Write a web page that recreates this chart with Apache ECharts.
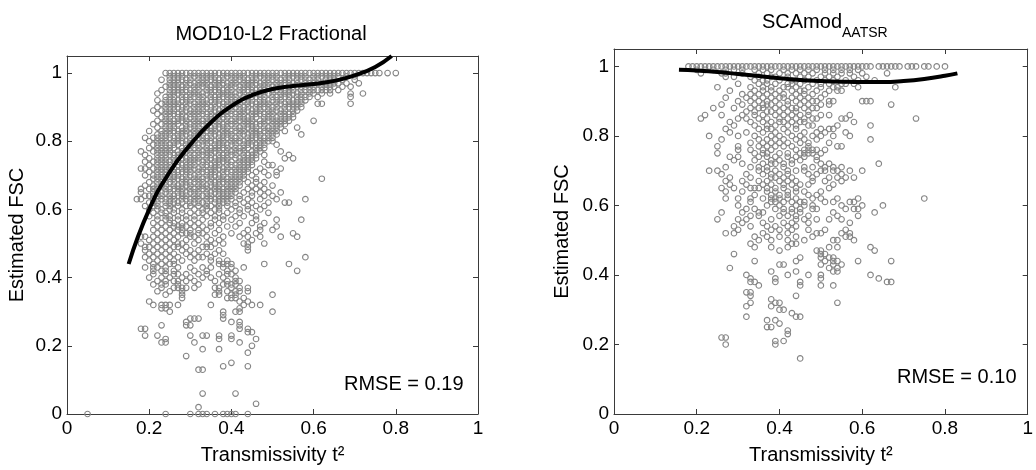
<!DOCTYPE html>
<html><head><meta charset="utf-8">
<script src="https://cdn.jsdelivr.net/npm/echarts@6/dist/echarts.min.js"></script>
<style>html,body{margin:0;padding:0;background:#fff}#c{width:1036px;height:470px}</style>
</head><body><div id="c"></div>
<script>
// tick labels
const xTicks = [0, 0.2, 0.4, 0.6, 0.8, 1];
const yTicks = [0, 0.2, 0.4, 0.6, 0.8, 1];
const titleLeft = 'MOD10-L2 Fractional';
const titleRightMain = 'SCAmod';
const titleRightSub = 'AATSR';
const xName = 'Transmissivity t\u00B2';
const yName = 'Estimated FSC';
const rmseLeft = 'RMSE = 0.19';
const rmseRight = 'RMSE = 0.10';

// MOD10-L2 scatter: "y|x x x" in hundredths
const modRows = [
"100|24 25 26 27 28 29 30 31 32 33 34 35 36 37 38 39 40 41 42 43 44 45 46 47 48 49 50 51 52 53 54 55 56 57 58 59 60 61 62 63 64 65 66 67 68 69 70 71 72 73 74 75 76 78 80",
"99|25 26 27 28 30 31 32 33 34 35 36 38 39 40 41 42 43 45 46 47 48 49 50 51 53 54 55 56 57 58 60 61 62 63 64 65 66 68 70",
"98|23 25 26 27 28 29 30 32 33 34 35 36 37 38 40 41 42 43 44 45 46 48 49 50 51 52 53 54 56 57 58 59 60 61 63 64 65 67 70",
"97|25 26 27 29 30 31 32 33 34 36 37 38 39 40 41 43 44 45 46 47 48 49 51 52 53 54 55 56 58 59 60 61 62 63 64 65 66 68 71",
"96|24 25 26 27 28 29 31 32 33 34 35 36 37 39 40 41 42 43 44 45 47 48 49 50 51 52 54 55 56 57 58 59 60 62 63 64 65 67 69",
"95|23 25 26 27 28 29 30 31 32 34 35 36 37 38 39 40 42 43 44 45 46 47 48 50 51 52 53 54 55 57 58 59 60 61 62 63 64 66",
"94|22 25 26 27 28 30 31 32 33 34 35 37 38 39 40 41 42 43 45 46 47 48 49 50 52 53 54 55 56 57 59 60 62 64 69 72",
"93|24 25 26 28 29 30 31 32 33 35 36 37 38 39 40 41 43 44 45 46 47 48 50 51 52 53 54 56 57 58 59 61 69",
"92|22 24 25 26 27 28 29 30 32 33 34 35 36 37 39 40 41 42 43 44 45 47 48 49 50 51 52 54 55 56 57 58",
"91|23 24 25 26 27 29 30 31 32 33 34 36 37 38 39 40 41 42 44 45 46 47 48 49 51 52 53 54 55 56 57 61 62 69",
"90|22 24 25 26 27 28 29 31 32 33 34 35 36 38 39 40 41 42 43 44 46 47 48 49 50 51 53 54 55 56 57",
"89|21 23 24 25 26 28 29 30 31 32 33 35 36 37 38 39 40 42 43 44 45 46 47 49 50 51 52 53 55 56",
"88|22 24 25 26 27 28 30 31 32 33 34 35 37 38 39 40 41 42 43 45 46 47 48 49 50 52 53 54 55",
"87|23 24 25 27 28 29 30 31 32 34 35 36 37 38 39 41 42 43 44 45 46 48 49 50 51 52 53 54 55",
"86|22 24 25 26 27 28 29 31 32 33 34 35 36 37 39 40 41 42 43 44 45 47 48 49 50 51 52 53 54 60",
"85|21 23 24 25 26 27 29 30 31 32 33 34 36 37 38 39 40 41 43 44 45 46 47 48 50 51 52 53",
"84|22 24 25 26 28 29 30 31 32 34 35 36 37 38 39 41 42 43 44 45 46 48 49 50 51 52 56",
"83|20 23 24 25 26 27 28 29 31 32 33 34 35 36 38 39 40 41 42 43 45 46 47 48 49 50 51 53",
"82|22 23 24 25 27 28 29 30 31 32 33 35 36 37 38 39 40 42 43 44 45 46 47 49 50 51 57",
"81|19 21 22 23 24 25 26 27 28 30 31 32 33 34 35 37 38 39 40 41 42 44 45 46 47 48 49 50",
"80|20 22 23 24 26 27 28 29 30 31 33 34 35 36 37 38 40 41 42 43 44 45 47 48 49 50",
"79|21 22 23 24 25 26 27 29 30 31 32 33 34 36 37 38 39 40 41 43 44 45 46 47 48 51",
"78|20 22 23 24 25 26 28 29 30 31 32 34 35 36 37 38 39 41 42 43 44 46 47 48",
"77|18 21 22 23 24 25 27 28 29 30 32 33 34 35 36 37 39 40 41 42 43 45 46 47 52",
"76|19 22 23 24 25 26 27 28 30 31 32 33 34 35 37 38 39 40 41 43 44 45 46 48 54",
"75|20 22 23 24 26 27 28 29 30 31 32 34 35 36 37 38 39 41 42 43 44 45 46 53 55",
"74|19 21 22 23 24 25 26 27 29 30 31 32 33 34 36 37 38 39 40 42 43 44 45 48",
"73|20 22 23 24 25 27 28 29 30 31 33 34 35 36 37 39 40 41 42 43 44 45 49 50",
"72|18 19 21 22 23 24 25 26 28 29 30 31 32 33 35 36 37 38 39 41 42 43 44 47 52",
"71|20 22 23 24 26 27 28 29 30 32 33 34 35 36 38 39 40 41 42 43 44 46 48 51",
"70|19 21 22 23 24 25 26 27 29 30 31 32 34 35 36 37 38 40 41 42 43 45 49 51",
"69|21 22 23 25 26 27 28 29 31 32 33 34 35 37 38 39 40 41 42 43 46 62",
"68|20 22 23 24 25 26 28 29 30 31 32 33 35 36 37 38 39 40 41 42 44 46 48",
"67|19 21 22 23 24 26 27 28 29 30 32 33 34 35 36 37 39 40 41 42 45 47 50",
"66|18 20 21 22 24 25 26 27 28 30 31 32 33 34 36 37 38 39 40 41 44 46 48",
"65|18 21 22 23 24 25 27 28 29 30 31 32 34 35 36 37 38 39 40 41 43 45 47 49 52",
"64|19 20 21 22 23 25 26 27 28 29 31 32 33 34 35 37 38 39 40 42 45 48 50",
"63|17 18 21 22 23 24 25 26 28 29 30 31 32 34 35 36 37 38 39 40 42 44 47 51 58",
"62|20 21 22 24 25 26 27 28 30 31 32 33 34 36 37 38 39 41 43 45 49 53 54",
"61|19 21 22 24 25 27 29 30 32 34 35 37 39 41 44 46 48",
"60|20 22 23 25 26 28 31 33 34 36 37 40 42 44 47",
"59|21 23 24 26 28 30 32 33 35 37 39 42 45 49",
"58|20 22 24 25 27 29 31 34 36 38 41 43 46",
"57|22 24 25 27 29 31 33 36 38 40 46 51 57",
"56|21 23 25 26 28 30 32 35 37 42 45 48",
"55|22 24 26 27 28 29 31 33 35 39 41 47 51",
"54|21 23 25 27 28 30 32 34 37 44 47 50",
"53|22 24 26 28 29 30 32 33 36 40 43 46 55",
"52|18 19 21 23 25 27 30 31 34 38 42 44 47 52 56",
"51|20 22 24 26 29 32 35 37 45",
"50|18 21 23 25 27 28 31 34 36 38 43 44 48",
"49|19 20 22 24 26 27 29 33 34 35 44",
"48|19 21 23 25 28 30 32 37 44",
"47|20 22 24 26 29 31 34 36 38",
"46|19 21 23 25 27 30 32 33 35 58",
"45|20 22 24 26 28 31 35 37 39",
"44|21 23 25 26 37 38 39 40 48 54",
"43|19 21 22 24 27 30 33 35 38 40 43",
"42|21 23 24 26 31 34 39 41 56",
"41|21 24 26 27 29 32 34 37 39 40",
"40|20 23 25 28 30 33 35 38 41",
"39|22 24 26 27 29 31 36 39 41 42",
"38|21 23 24 27 32 38 39 40 41",
"37|23 26 27 28 29 31 36 37 40 42 44",
"36|22 25 28 37 39 41 42 44",
"35|24 28 36 37 40 41 50",
"34|28 39 40 41 43",
"33|20 42 44",
"32|21 23 24 25 27 35 43 45 47",
"31|23 24 42",
"30|25 38 41 42 50",
"29|38",
"28|30 31 32 38",
"27|29 40 42",
"26|23 29 30 42",
"25|18 19 42 44",
"24|44 45",
"23|19 22 30 33 34 37 40",
"22|24 37 40 46",
"21|23 24 31 42",
"20|45",
"19|33 37",
"18|44",
"17|29",
"15|40",
"14|38 44",
"13|32 33",
"6|33 41",
"3|46",
"2|32",
"0|5 24 30 32 33 34 36 38 39 40 41 44"
];

// SCAmod AATSR scatter: "y|x x x" in hundredths
const scaRows = [
"100|18 19 20 21 22 23 24 25 26 27 28 29 30 31 32 33 34 35 36 37 38 39 40 41 42 43 44 45 46 47 48 49 50 51 52 53 54 55 56 57 58 59 60 61 62 64 65 66 67 68 69 71 72 73 75 76 78 80",
"99|20 22 24 27 29 31 34 36 38 41 43 45 47 49 51 53 55 57 59",
"98|21 26 27 31 35 37 40 42 44 46 48 51 53 55 57 60 66",
"97|27 29 33 35 38 39 42 45 47 50 52 54 58 61",
"96|34 36 37 40 43 44 46 49 51 53 56 59 63",
"95|30 35 37 39 42 43 45 48 50 52 55 56 58",
"94|25 33 36 38 41 42 44 47 50 53 54 59 68",
"93|28 34 36 38 40 43 45 46 49 52 54 55",
"92|31 33 35 37 39 41 44 46 48 51",
"91|27 32 34 36 38 40 41 43 45 47 50",
"90|30 33 35 37 39 42 44 46 48 49 52 53 60 61 62",
"89|26 31 34 36 37 38 40 42 45 47 50 52 67",
"88|24 29 33 35 36 39 41 43 44 46 48 49",
"87|32 34 37 38 40 42 44 47",
"86|22 26 31 34 36 39 41 43 45 47 50 52 57",
"85|21 30 32 35 37 40 42 44 46 48 49 55 56 73",
"84|28 33 36 38 40 41 43 45 46 58",
"83|29 34 37 39 42 44 47 48 54 62",
"82|27 35 37 38 41 44 50 52 53",
"81|28 32 36 39 42 46 49 51 56",
"80|23 30 34 38 40 43 45 48 50 53 57",
"79|26 35 37 39 41 44 46 49 62",
"78|33 36 38 40 42 45 47 52",
"77|25 30 35 37 39 41 43 47 54 55",
"76|30 33 36 38 44 46 47 48 49 51",
"75|25 34 36 37 40 42 45 46 47 48 50",
"74|28 30 35 37 39 42 44 46 49",
"73|29 34 38 40 43 45 49",
"72|31 36 38 39 41 43 50 52 64",
"71|27 33 35 37 41 46 48 51 53 55",
"70|23 25 35 37 39 42 44 46 50 51 53 54 57 60",
"69|26 32 36 38 40 42 47 49 55",
"68|28 33 38 39 41 43 48 52 54 56 58",
"67|27 31 35 37 40 42 44 48 51 55",
"66|28 32 36 38 41 43 45 47 53",
"65|26 29 33 34 35 37 39 41 44 52",
"64|27 31 37 39 42 44 46 50",
"63|34 38 40 42 47 49",
"62|27 30 33 36 38 39 40 42 44 48 50 54 59 75",
"61|33 38 39 41 43 45 46 51 53 57 58",
"60|30 37 40 44 46 48 55 60 65",
"59|32 34 39 41 43 45 48 49 56 58 59",
"58|26 31 35 36 41 43 45 53 63",
"57|33 35 40 42 44 47 54 59",
"56|25 30 32 38 44 46 49 52 55",
"55|31 36 41 43 47 57",
"54|29 33 37 39 42 44",
"53|30 38 40 43 47 51 56",
"52|27 29 36 42 49 50 55 57",
"51|34 37 40 44 48 56 57",
"50|35 38 42 46 53 54 58",
"49|33 43 44",
"48|34 38 42 52 54 62",
"47|40 49 50 63",
"46|29 50 51",
"45|45 50 52 53",
"44|34 44 51 53 54 59 67",
"43|40 41 50 53 55",
"42|28 52 54",
"41|38 44 53 54",
"40|32 42 47 50 62",
"39|33 39 50 64",
"38|33 34 39 45 66 67",
"37|35 45 50 53",
"35|32 33",
"34|33 44",
"33|38",
"32|33 39 40 54",
"31|32 38",
"30|40 41",
"29|43",
"28|32 44 45",
"27|37 39",
"26|40",
"25|37 38",
"24|42",
"23|42",
"22|26 27",
"21|39 41",
"20|27 39",
"16|45"
];

// fitted curves
const modCurveX = [0.15, 0.2, 0.25, 0.3, 0.35, 0.4, 0.45, 0.5, 0.55, 0.6, 0.65, 0.7, 0.75, 0.79];
const modCurveY = [0.44, 0.60, 0.71, 0.79, 0.855, 0.903, 0.935, 0.953, 0.962, 0.968, 0.977, 0.993, 1.018, 1.05];
const scaCurveX = [0.157, 0.2, 0.25, 0.3, 0.35, 0.4, 0.45, 0.5, 0.55, 0.6, 0.65, 0.7, 0.75, 0.8, 0.83];
const scaCurveY = [0.99, 0.988, 0.984, 0.978, 0.972, 0.966, 0.961, 0.958, 0.956, 0.955, 0.955, 0.958, 0.964, 0.973, 0.98];

function parseRows(rows) {
  const out = [];
  rows.forEach(r => {
    const parts = r.split('|');
    const y = +parts[0] / 100;
    parts[1].trim().split(/\s+/).forEach(x => out.push([+x / 100, y]));
  });
  return out;
}
function zip(xs, ys) { return xs.map((x, i) => [x, ys[i]]); }

const FONT = '"Liberation Sans", Arial, Helvetica, sans-serif';
const AX = '#3a3a3a';
const fmt = v => String(Math.round(v * 10) / 10);

function xAxes(grid) {
  return [
    { gridIndex: grid, type: 'value', min: 0, max: 1, interval: 0.2, position: 'bottom',
      name: xName, nameLocation: 'middle', nameGap: 31,
      nameTextStyle: { fontFamily: FONT, fontSize: 20, color: '#000' },
      axisLine: { show: true, onZero: false, lineStyle: { color: AX, width: 1 } },
      axisTick: { show: true, inside: true, length: 5, customValues: xTicks, lineStyle: { color: AX } },
      axisLabel: { show: true, customValues: xTicks, formatter: fmt, margin: 5, fontFamily: FONT, fontSize: 19, color: '#000' },
      splitLine: { show: false } },
    { gridIndex: grid, type: 'value', min: 0, max: 1, interval: 0.2, position: 'top',
      axisLine: { show: true, onZero: false, lineStyle: { color: AX, width: 1 } },
      axisTick: { show: true, inside: true, length: 5, customValues: xTicks, lineStyle: { color: AX } },
      axisLabel: { show: false }, splitLine: { show: false } }
  ];
}
function yAxes(grid, gap) {
  return [
    { gridIndex: grid, type: 'value', min: 0, max: 1.05, interval: 0.2, position: 'left',
      name: yName, nameLocation: 'middle', nameGap: gap, nameRotate: 90,
      nameTextStyle: { fontFamily: FONT, fontSize: 20, color: '#000' },
      axisLine: { show: true, onZero: false, lineStyle: { color: AX, width: 1 } },
      axisTick: { show: true, inside: true, length: 5, customValues: yTicks, lineStyle: { color: AX } },
      axisLabel: { show: true, customValues: yTicks, formatter: fmt, margin: 5, fontFamily: FONT, fontSize: 19, color: '#000' },
      splitLine: { show: false } },
    { gridIndex: grid, type: 'value', min: 0, max: 1.05, interval: 0.2, position: 'right',
      axisLine: { show: true, onZero: false, lineStyle: { color: AX, width: 1 } },
      axisTick: { show: true, inside: true, length: 5, customValues: yTicks, lineStyle: { color: AX } },
      axisLabel: { show: false }, splitLine: { show: false } }
  ];
}

const scatterStyle = {
  type: 'scatter', symbol: 'circle', symbolSize: 5.6, large: false, progressive: 0, silent: true,
  itemStyle: { color: 'rgba(255,255,255,0)', borderColor: '#858585', borderWidth: 1.1, opacity: 1 }
};
const lineStyle = {
  type: 'line', smooth: true, showSymbol: false, symbol: 'none', silent: true, clip: true,
  lineStyle: { color: '#000', width: 4 }
};

const chart = echarts.init(document.getElementById('c'), null, { renderer: 'canvas' });
chart.setOption({
  animation: false,
  backgroundColor: '#fff',
  grid: [
    { left: 67, top: 56, width: 411, height: 363 },
    { left: 614, top: 49, width: 420, height: 367 }
  ],
  xAxis: xAxes(0).concat(xAxes(1)),
  yAxis: yAxes(0, 40).concat(yAxes(1, 42)),
  series: [
    Object.assign({}, scatterStyle, { xAxisIndex: 0, yAxisIndex: 0, data: parseRows(modRows) }),
    Object.assign({}, lineStyle, { xAxisIndex: 0, yAxisIndex: 0, data: zip(modCurveX, modCurveY) }),
    Object.assign({}, scatterStyle, { xAxisIndex: 2, yAxisIndex: 2, data: parseRows(scaRows) }),
    Object.assign({}, lineStyle, { xAxisIndex: 2, yAxisIndex: 2, data: zip(scaCurveX, scaCurveY) })
  ],
  graphic: [
    { type: 'text', x: 271, y: 34, style: { text: titleLeft, font: '20px ' + FONT, fill: '#000', align: 'center', verticalAlign: 'middle' } },
    { type: 'text', x: 842, y: 22, style: { text: titleRightMain, font: '20px ' + FONT, fill: '#000', align: 'right', verticalAlign: 'middle' } },
    { type: 'text', x: 842, y: 33, style: { text: titleRightSub, font: '14px ' + FONT, fill: '#000', align: 'left', verticalAlign: 'middle' } },
    { type: 'text', x: 344, y: 384, style: { text: rmseLeft, font: '20px ' + FONT, fill: '#000', align: 'left', verticalAlign: 'middle' } },
    { type: 'text', x: 897, y: 377, style: { text: rmseRight, font: '20px ' + FONT, fill: '#000', align: 'left', verticalAlign: 'middle' } }
  ]
});
</script>
</body></html>
